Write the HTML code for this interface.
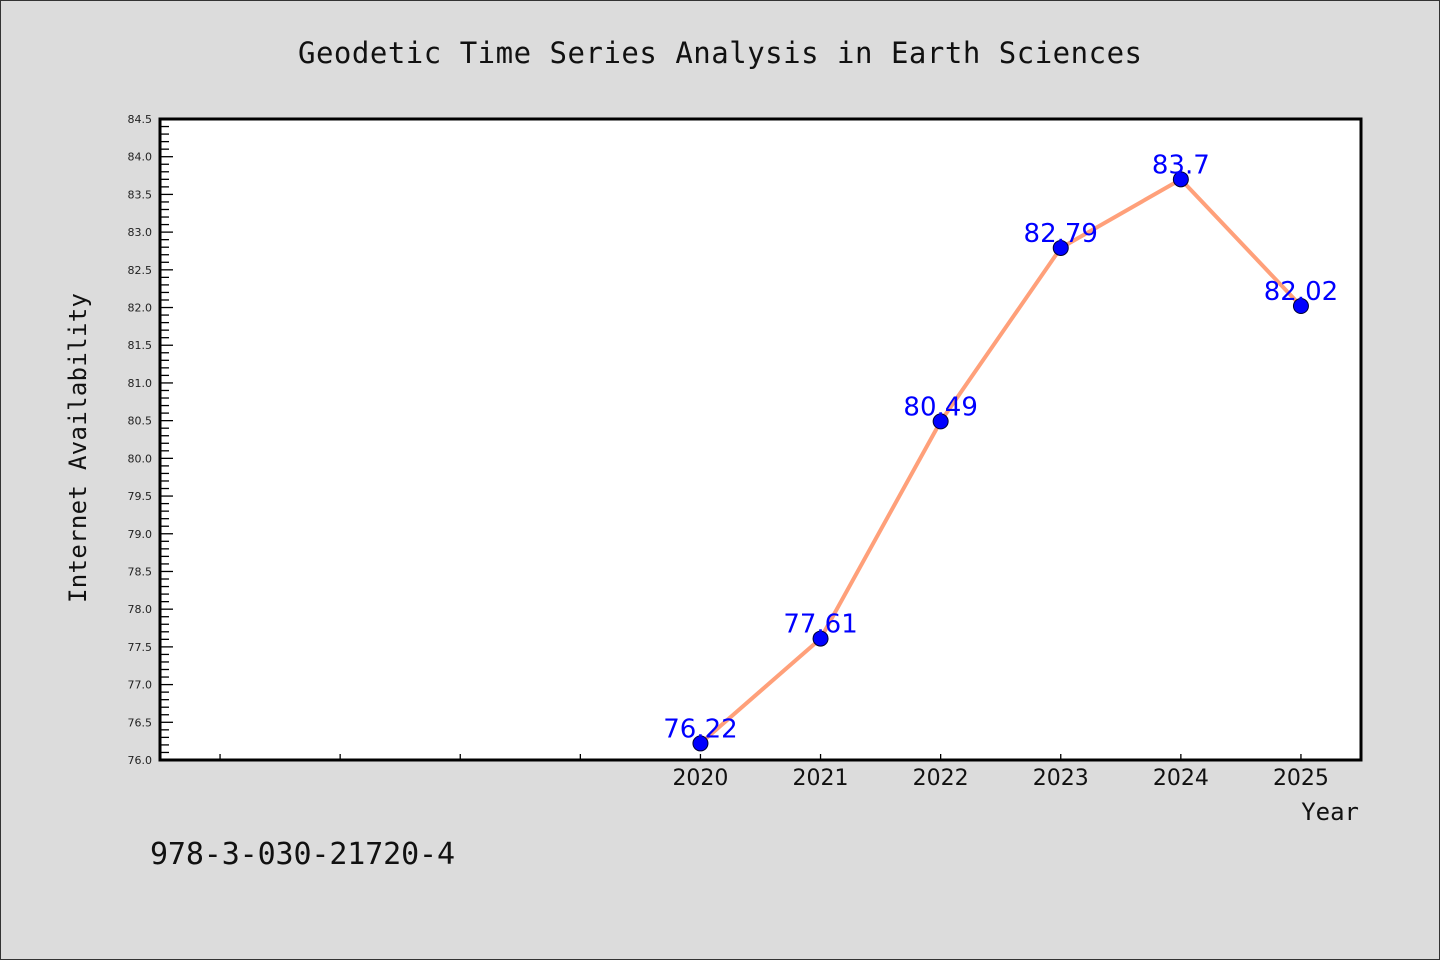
<!DOCTYPE html>
<html><head><meta charset="utf-8"><style>
html,body{margin:0;padding:0;background:#dcdcdc;}
svg{display:block;}
</style></head><body>
<svg width="1440" height="960" xmlns="http://www.w3.org/2000/svg">
<rect x="0.5" y="0.5" width="1439" height="959" fill="#dcdcdc" stroke="#333"/>
<text x="720" y="63" text-anchor="middle" font-family="DejaVu Sans Mono, Liberation Mono, monospace" font-size="29" textLength="844" fill="#111">Geodetic Time Series Analysis in Earth Sciences</text>
<rect x="160" y="119" width="1201" height="641" fill="#fff"/>
<g id="yticks"></g>
<g id="xticks"></g>
<g id="series"></g>
<rect x="160" y="119" width="1201" height="641" fill="none" stroke="#000" stroke-width="3"/>
<text x="86" y="448" transform="rotate(-90 86 448)" text-anchor="middle" font-family="DejaVu Sans Mono, monospace" font-size="24" textLength="310" fill="#111">Internet Availability</text>
<text x="1359" y="820" text-anchor="end" font-family="DejaVu Sans Mono, monospace" font-size="24" fill="#111">Year</text>
<text x="150" y="864" font-family="DejaVu Sans Mono, monospace" font-size="30" textLength="305" fill="#111">978-3-030-21720-4</text>
</svg>
<script>
const years = [2020, 2021, 2022, 2023, 2024, 2025];
const values = [76.22, 77.61, 80.49, 82.79, 83.7, 82.02];
const valueLabels = ["76.22", "77.61", "80.49", "82.79", "83.7", "82.02"];
const yMin = 76.0, yMax = 84.5;
const xMin = 2015.5, xMax = 2025.5;
const NS = "http://www.w3.org/2000/svg";
const L = 160, R = 1361, T = 119, B = 760;
function xs(v){ return L + (v - xMin) / (xMax - xMin) * (R - L); }
function ys(v){ return B - (v - yMin) / (yMax - yMin) * (B - T); }
function mk(tag, attrs, parent){ const e = document.createElementNS(NS, tag); for (const k in attrs) e.setAttribute(k, attrs[k]); parent.appendChild(e); return e; }
const yg = document.getElementById('yticks');
for (let i = 0; i <= 85; i++) {
  const v = yMin + i * 0.1;
  const y = ys(v);
  const major = i % 5 === 0;
  const t = mk('line', {x1: L, x2: L + (major ? 13 : 9), y1: y, y2: y, stroke: '#000', 'stroke-width': 1.3}, yg);
  
  
  if (major) {
    const lb = mk('text', {x: 152, y: y + 4, 'text-anchor': 'end', 'font-family': 'DejaVu Sans, sans-serif', 'font-size': 11, fill: '#222'}, yg);
    lb.textContent = v.toFixed(1);
    
    
  }
}
const xg = document.getElementById('xticks');
for (let yr = 2016; yr <= 2025; yr++) {
  const x = xs(yr);
  const t = mk('line', {x1: x, x2: x, y1: B, y2: B - 6, stroke: '#000', 'stroke-width': 1.3}, xg);
  
  
}
years.forEach(yr => {
  const lb = mk('text', {x: xs(yr), y: 785, 'text-anchor': 'middle', 'font-family': 'DejaVu Sans, sans-serif', 'font-size': 22, fill: '#111'}, xg);
  lb.textContent = String(yr);
  
  
});
const sg = document.getElementById('series');
const pts = years.map((yr, i) => xs(yr) + ',' + ys(values[i])).join(' ');
const pl = mk('polyline', {points: pts, fill: 'none', stroke: '#ffa07a', 'stroke-width': 4, 'stroke-linejoin': 'round'}, sg);


years.forEach((yr, i) => {
  const c = mk('circle', {cx: xs(yr), cy: ys(values[i]), r: 7.5, fill: '#0000ff', stroke: '#000033', 'stroke-width': 1}, sg);
  
  
});
years.forEach((yr, i) => {
  const t = mk('text', {x: xs(yr), y: ys(values[i]) - 6, 'text-anchor': 'middle', 'font-family': 'DejaVu Sans, sans-serif', 'font-size': 26, fill: '#0000ff'}, sg);
  t.textContent = valueLabels[i];
  
  
});
</script>
</body></html>
